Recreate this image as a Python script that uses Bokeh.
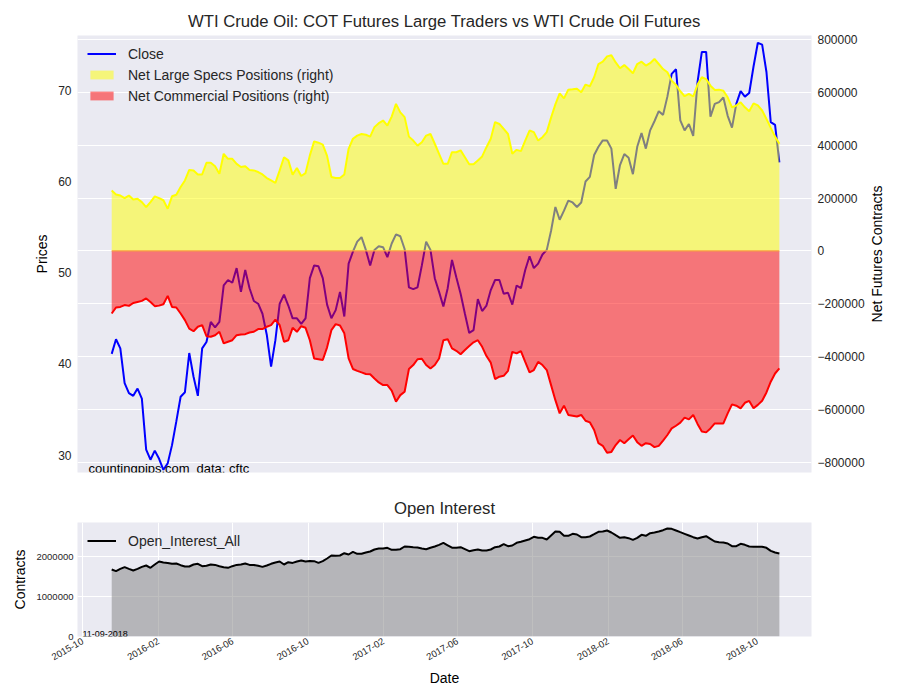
import math
import pandas as pd
from bokeh.plotting import figure
from bokeh.models import (Range1d, LinearAxis, FixedTicker, Grid, Legend, LegendItem,
                          Label, DatetimeTickFormatter, BasicTickFormatter, ColumnDataSource)
from bokeh.layouts import column, row
from bokeh.embed import file_html
from bokeh.resources import INLINE

# ---------------- data (weekly, Tuesdays) ----------------
start_date = "2015-11-17"
n_weeks = 156

close = [41.1, 42.7, 41.7, 37.9, 36.8, 36.5, 37.3, 36.2, 30.6, 29.5,
         30.5, 29.6, 28.4, 29.1, 31.1, 33.7, 36.4, 36.9, 41.2, 38.6,
         36.5, 41.7, 42.4, 44.6, 44.0, 44.6, 48.6, 49.2, 48.9, 50.5,
         47.9, 50.3, 48.3, 46.9, 46.6, 45.5, 43.2, 39.7, 42.6, 46.6,
         47.6, 46.4, 45.0, 45.0, 44.4, 45.0, 49.4, 50.8, 50.7, 49.4,
         46.5, 45.0, 45.9, 47.9, 45.2, 51.0, 52.3, 53.4, 53.9, 52.5,
         50.8, 52.5, 52.9, 52.8, 51.7, 53.2, 54.2, 54.0, 52.6, 48.4,
         48.2, 48.4, 50.8, 53.4, 52.5, 49.4, 47.9, 46.3, 48.3, 51.4,
         49.5, 47.7, 45.5, 43.4, 43.7, 47.1, 45.8, 46.4, 48.1, 49.2,
         49.2, 47.7, 47.8, 46.5, 48.6, 48.3, 50.3, 51.8, 50.5, 51.0,
         52.0, 52.5, 54.6, 57.2, 55.8, 56.8, 57.9, 57.7, 57.2, 57.7,
         60.0, 60.5, 62.9, 63.8, 64.5, 64.5, 63.6, 59.2, 61.8, 63.0,
         62.6, 60.8, 63.8, 65.3, 63.6, 65.6, 66.6, 67.7, 67.3, 69.3,
         71.8, 72.3, 66.7, 65.6, 66.3, 65.0, 70.9, 74.2, 74.2, 67.1,
         68.5, 68.7, 69.2, 67.2, 65.9, 68.5, 69.9, 69.3, 69.7, 72.6,
         75.2, 75.0, 72.0, 66.5, 66.2, 62.1]

# net large speculator positions (thousands of contracts)
specs_k = [229, 214, 210, 200, 210, 195, 198, 185, 166, 185,
           207, 200, 192, 160, 207, 213, 242, 267, 307, 305,
           290, 290, 334, 334, 321, 292, 368, 349, 349, 330,
           318, 321, 307, 305, 299, 290, 276, 267, 258, 305,
           355, 343, 289, 314, 284, 295, 362, 415, 410, 403,
           360, 280, 276, 276, 290, 387, 425, 437, 443, 440,
           433, 469, 484, 494, 475, 509, 557, 525, 507, 433,
           418, 399, 412, 437, 443, 406, 368, 330, 330, 374,
           374, 381, 355, 328, 328, 343, 358, 393, 425, 488,
           481, 462, 443, 368, 383, 378, 418, 456, 450, 418,
           431, 450, 505, 555, 597, 578, 611, 612, 614, 601,
           630, 624, 658, 708, 717, 737, 741, 714, 692, 704,
           689, 673, 708, 717, 702, 711, 727, 708, 689, 677,
           645, 629, 605, 586, 595, 585, 630, 658, 651, 626,
           610, 611, 607, 582, 544, 551, 563, 544, 529, 559,
           551, 532, 500, 466, 433, 406]

# net commercial positions (thousands of contracts)
comm_k = [-237, -214, -212, -205, -208, -197, -193, -189, -180, -193,
          -209, -207, -202, -170, -212, -214, -237, -262, -294, -304,
          -287, -281, -323, -325, -319, -306, -350, -344, -338, -319,
          -316, -315, -309, -306, -296, -296, -287, -281, -260, -281,
          -344, -338, -291, -306, -285, -291, -338, -407, -410, -413,
          -365, -300, -277, -282, -312, -407, -447, -454, -460, -466,
          -467, -483, -498, -508, -508, -529, -571, -546, -533, -447,
          -432, -410, -408, -432, -445, -432, -407, -338, -334, -369,
          -378, -391, -375, -360, -346, -338, -363, -398, -423, -485,
          -476, -473, -454, -382, -388, -379, -420, -460, -451, -420,
          -432, -451, -508, -565, -615, -586, -621, -624, -627, -621,
          -643, -649, -678, -728, -738, -764, -761, -735, -716, -728,
          -713, -699, -724, -738, -728, -731, -743, -738, -718, -697,
          -672, -662, -650, -631, -638, -621, -655, -684, -687, -672,
          -653, -653, -653, -615, -581, -586, -596, -575, -568, -596,
          -583, -567, -536, -495, -464, -445]

# open interest (millions of contracts)
oi_m = [1.675, 1.633, 1.690, 1.733, 1.690, 1.650, 1.690, 1.740, 1.775, 1.717,
        1.800, 1.875, 1.850, 1.840, 1.817, 1.825, 1.783, 1.750, 1.750, 1.800,
        1.817, 1.758, 1.767, 1.800, 1.790, 1.758, 1.733, 1.717, 1.758, 1.790,
        1.800, 1.825, 1.790, 1.790, 1.767, 1.740, 1.775, 1.817, 1.850, 1.875,
        1.800, 1.858, 1.840, 1.875, 1.900, 1.875, 1.890, 1.883, 1.840, 1.883,
        1.950, 2.025, 2.017, 2.025, 2.083, 2.050, 2.117, 2.067, 2.067, 2.100,
        2.125, 2.175, 2.200, 2.200, 2.217, 2.167, 2.167, 2.183, 2.250, 2.242,
        2.233, 2.225, 2.200, 2.183, 2.217, 2.250, 2.290, 2.340, 2.280, 2.220,
        2.217, 2.233, 2.183, 2.133, 2.158, 2.175, 2.150, 2.150, 2.175, 2.233,
        2.250, 2.308, 2.258, 2.275, 2.342, 2.367, 2.400, 2.433, 2.492, 2.467,
        2.467, 2.425, 2.525, 2.625, 2.617, 2.517, 2.517, 2.567, 2.550, 2.483,
        2.483, 2.500, 2.558, 2.617, 2.625, 2.650, 2.600, 2.533, 2.467, 2.483,
        2.458, 2.417, 2.467, 2.542, 2.517, 2.583, 2.600, 2.625, 2.658, 2.700,
        2.692, 2.650, 2.608, 2.567, 2.525, 2.483, 2.450, 2.483, 2.508, 2.442,
        2.375, 2.358, 2.350, 2.325, 2.258, 2.258, 2.317, 2.292, 2.250, 2.242,
        2.242, 2.242, 2.217, 2.142, 2.100, 2.075]

price_ticks = [30, 40, 50, 60, 70]
net_ticks = [-800000, -600000, -400000, -200000, 0, 200000, 400000, 600000, 800000]
oi_ticks = [0, 1000000, 2000000]
date_ticks = ["2015-10-01", "2016-02-01", "2016-06-01", "2016-10-01", "2017-02-01",
              "2017-06-01", "2017-10-01", "2018-02-01", "2018-06-01", "2018-10-01"]

# ---------------- build ----------------
FONT = "Liberation Sans"
TXT = "#262626"
BG = "#EAEAF2"

dates = pd.date_range(start_date, periods=n_weeks, freq="7D")
src = ColumnDataSource(dict(
    date=dates,
    close=close,
    specs=[v * 1000 for v in specs_k],
    comm=[v * 1000 for v in comm_k],
    oi=[v * 1e6 for v in oi_m],
    zero=[0] * n_weeks,
))

x_range = Range1d(start=pd.Timestamp("2015-09-22 10:00"), end=pd.Timestamp("2018-12-28 05:00"))


def style_axis(ax, size):
    ax.axis_line_color = None
    ax.major_tick_line_color = None
    ax.minor_tick_line_color = None
    ax.major_tick_out = 0
    ax.major_tick_in = 0
    ax.minor_tick_out = 0
    ax.minor_tick_in = 0
    ax.major_label_text_font = FONT
    ax.major_label_text_font_size = size
    ax.major_label_text_color = TXT
    ax.axis_label_text_font = FONT
    ax.axis_label_text_font_size = "14px"
    ax.axis_label_text_font_style = "normal"
    ax.axis_label_text_color = "#000000"


def style_title(p):
    p.title.align = "center"
    p.title.text_font = FONT
    p.title.text_font_size = "16.7px"
    p.title.text_font_style = "normal"
    p.title.text_color = TXT
    p.title.standoff = 9


P1_W = 868          # main panel; a narrow strip to its right carries the right axis title
STRIP_W = 900 - P1_W
P1_H = 482

p1 = figure(width=P1_W, height=P1_H, x_axis_type="datetime", x_range=x_range,
            y_range=Range1d(28.1, 76.0), output_backend="svg", toolbar_location=None,
            min_border_left=77, min_border_right=P1_W - 811, min_border_top=35, min_border_bottom=10,
            background_fill_color=BG, border_fill_color="white", outline_line_color=None,
            title="WTI Crude Oil: COT Futures Large Traders vs WTI Crude Oil Futures")
style_title(p1)
p1.extra_y_ranges = {"right": Range1d(-839000, 816000)}
p1.xaxis.visible = False
p1.xgrid.visible = False
p1.ygrid.visible = False

close_r = p1.line("date", "close", source=src, line_color="#0000FF", line_width=2)
specs_a = p1.varea(x="date", y1="zero", y2="specs", source=src, fill_color="yellow",
                   fill_alpha=0.5, y_range_name="right")
comm_a = p1.varea(x="date", y1="zero", y2="comm", source=src, fill_color="red",
                  fill_alpha=0.5, y_range_name="right")
p1.line("date", "zero", source=src, line_color="#F7A040", line_width=1.3, y_range_name="right")
p1.line("date", "specs", source=src, line_color="yellow", line_width=2, y_range_name="right")
p1.line("date", "comm", source=src, line_color="red", line_width=2, y_range_name="right")

ly = p1.yaxis[0]
ly.ticker = FixedTicker(ticks=price_ticks)
ly.axis_label = "Prices"
style_axis(ly, "12px")
ly.major_label_standoff = 6
ly.axis_label_standoff = 5

ra = LinearAxis(y_range_name="right", ticker=FixedTicker(ticks=net_ticks))
ra.major_label_overrides = {t: (("\u2212" + str(-t)) if t < 0 else str(t)) for t in net_ticks}
style_axis(ra, "12px")
ra.major_label_standoff = 6
p1.add_layout(ra, "right")
p1.add_layout(Grid(dimension=1, ticker=ra.ticker, y_range_name="right",
                   grid_line_color="white", grid_line_width=1), "center")

leg1 = Legend(items=[LegendItem(label="Close", renderers=[close_r]),
                     LegendItem(label="Net Large Specs Positions (right)", renderers=[specs_a]),
                     LegendItem(label="Net Commercial Positions (right)", renderers=[comm_a])],
              location="top_left", margin=8, padding=2, spacing=4,
              glyph_width=29, glyph_height=11, label_height=17, label_standoff=12,
              label_text_font=FONT, label_text_font_size="14px", label_text_color=TXT,
              background_fill_alpha=0, border_line_alpha=0)
p1.add_layout(leg1)
p1.add_layout(Label(x=11, y=4, x_units="screen", y_units="screen", text="countingpips.com",
                    text_font=FONT, text_font_size="13px", text_color="#000000",
                    text_baseline="alphabetic"))
p1.add_layout(Label(x=119, y=4, x_units="screen", y_units="screen", text="data: cftc",
                    text_font=FONT, text_font_size="13px", text_color="#000000",
                    text_baseline="alphabetic"))

# strip holding the right axis title, reading bottom-to-top
strip = figure(width=STRIP_W, height=P1_H, x_range=Range1d(0, 1), y_range=Range1d(0, 1),
               output_backend="svg", toolbar_location=None,
               min_border_left=0, min_border_right=0, min_border_top=35, min_border_bottom=10,
               x_axis_location=None, y_axis_location=None,
               background_fill_color="white", border_fill_color="white", outline_line_color=None)
strip.xgrid.visible = False
strip.ygrid.visible = False
strip.add_layout(Label(x=876 - P1_W, y=(P1_H - 45) / 2, x_units="screen", y_units="screen",
                       text="Net Futures Contracts", angle=math.pi / 2,
                       text_align="center", text_baseline="middle",
                       text_font=FONT, text_font_size="14px", text_color="#000000"))

# ---------------- open interest panel ----------------
p2 = figure(width=900, height=218, x_axis_type="datetime", x_range=x_range,
            y_range=Range1d(0, 2850000), output_backend="svg", toolbar_location=None,
            min_border_left=77, min_border_right=89, min_border_top=40, min_border_bottom=64,
            background_fill_color=BG, border_fill_color="white", outline_line_color=None,
            title="Open Interest")
style_title(p2)

p2.varea(x="date", y1="zero", y2="oi", source=src, fill_color="grey", fill_alpha=0.5)
oi_r = p2.line("date", "oi", source=src, line_color="black", line_width=2)

tick_ms = [pd.Timestamp(t).value / 1e6 for t in date_ticks]
xa = p2.xaxis[0]
xa.ticker = FixedTicker(ticks=tick_ms)
xa.formatter = DatetimeTickFormatter(days="%Y-%m", months="%Y-%m", years="%Y-%m")
xa.major_label_orientation = math.pi / 6
xa.axis_label = "Date"
style_axis(xa, "9.5px")
xa.major_label_standoff = 4
xa.axis_label_standoff = 4
p2.xgrid.ticker = FixedTicker(ticks=tick_ms)
p2.xgrid.grid_line_color = "white"

ya = p2.yaxis[0]
ya.ticker = FixedTicker(ticks=oi_ticks)
ya.formatter = BasicTickFormatter(use_scientific=False)
ya.axis_label = "Contracts"
style_axis(ya, "9.5px")
ya.major_label_standoff = 4
ya.axis_label_standoff = 6
p2.ygrid.grid_line_color = "white"

leg2 = Legend(items=[LegendItem(label="Open_Interest_All", renderers=[oi_r])],
              location="top_left", margin=8, padding=2,
              glyph_width=29, glyph_height=11, label_height=17, label_standoff=12,
              label_text_font=FONT, label_text_font_size="14px", label_text_color=TXT,
              background_fill_alpha=0, border_line_alpha=0)
p2.add_layout(leg2)
p2.add_layout(Label(x=5, y=3, x_units="screen", y_units="screen", text="11-09-2018",
                    text_font=FONT, text_font_size="9px", text_color="#000000",
                    text_baseline="alphabetic"))

layout = column(row(p1, strip), p2)
open("out.html", "w").write(file_html(layout, INLINE))
